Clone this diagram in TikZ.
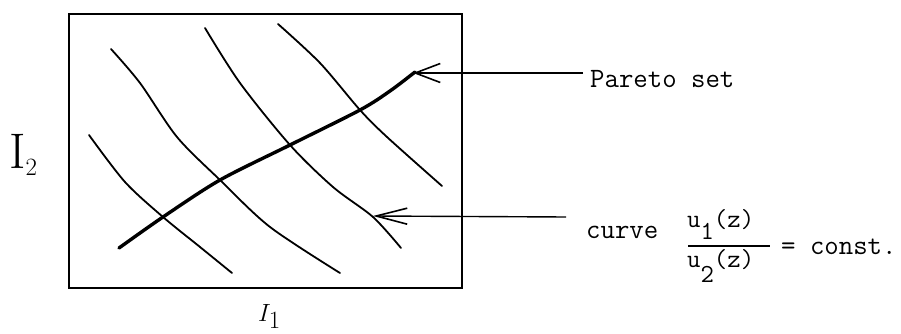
\documentclass[tikz,border=0pt]{standalone}
\usepackage{fontspec}
\usetikzlibrary{arrows.meta}
\begin{document}
\begin{tikzpicture}[x=1pt,y=-1pt,
  frame/.style={line width=2.3pt},
  level/.style={line width=1.8pt, line cap=round, line join=round},
  pareto/.style={line width=3.4pt, line cap=round, line join=round},
  pointer/.style={line width=1.4pt},
  tt/.style={inner sep=0pt, font=\ttfamily\fontsize{28}{32}\selectfont},
  ttf/.style={inner sep=0pt, font=\ttfamily\fontsize{26}{30}\selectfont},
  hand/.style={inner sep=0pt}]
\useasboundingbox (0,0) rectangle (901,334);
% frame
\draw[frame] (69,14) rectangle (462,288);
% level curves u1/u2 = const
\draw[level] plot[smooth] coordinates {(89,135) (125,182) (163,217) (200,247) (232,273)};
\draw[level] plot[smooth] coordinates {(111,49) (140,83) (177,137) (220,180) (270,227) (340,273)};
\draw[level] plot[smooth] coordinates {(205,28) (240,83) (290,145) (333,187) (373,217) (401,248)};
\draw[level] plot[smooth] coordinates {(278,24) (320,63) (360,110) (387,137) (442,186)};
% Pareto set
\draw[pareto] plot[smooth] coordinates {(119,248) (163,217) (220,180) (290,145) (360,110) (390,91) (415,72)};
% pointers
\coordinate (t1) at (413,73);
\coordinate (s1) at (583,73);
\coordinate (t2) at (373,216);
\coordinate (s2) at (566,217);
\draw[pointer, -{Straight Barb[length=25pt,width=19pt,line width=1.6pt]}] (s1) -- (t1);
\draw[pointer, -{Straight Barb[length=31pt,width=16pt,line width=1.6pt]}] (s2) -- (t2);
% labels
\node[tt, anchor=base west] (pset) at (590,88) {Pareto set};
\node[tt, anchor=base west] (curve) at (586,238) {curve};
\node[ttf, anchor=base west] (num) at (687,227) {u\raisebox{-12pt}{1}(z)};
\node[ttf, anchor=base west] (den) at (687,267) {u\raisebox{-15pt}{2}(z)};
\draw[line width=1.2pt] (688,246) -- (770,246);
\node[tt, anchor=base west] (const) at (781,254) {= const.};
\node[hand, anchor=base west, font=\fontsize{50}{56}\selectfont] (i2) at (9,168) {$\mathrm{I}_{2}$};
\node[hand, anchor=base west, font=\fontsize{34}{40}\selectfont] (i1) at (258,321) {$I_{1}$};
\end{tikzpicture}
\end{document}
